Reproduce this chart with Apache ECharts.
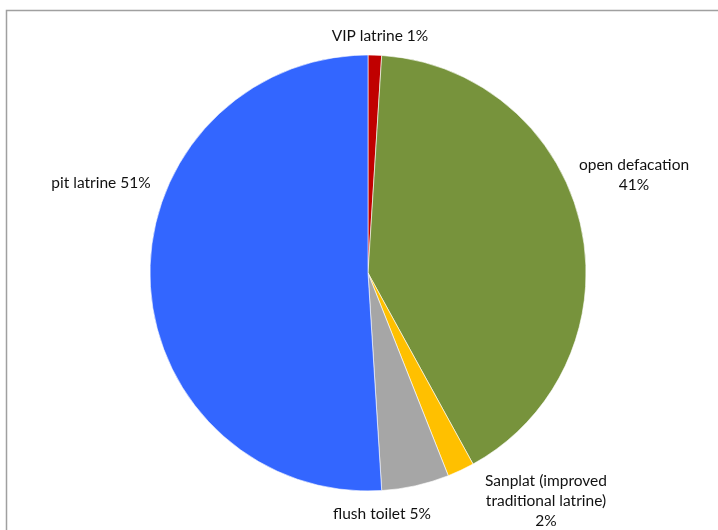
<!DOCTYPE html>
<html>
<head>
<meta charset="utf-8">
<script src="https://cdn.jsdelivr.net/npm/echarts@6/dist/echarts.min.js"></script>
<style>
html,body{margin:0;padding:0;background:#fff;}
#chart{width:718px;height:530px;}
</style>
</head>
<body>
<div id="chart"></div>
<script>
const categories = ['VIP latrine', 'open defacation', 'Sanplat (improved\ntraditional latrine)', 'flush toilet', 'pit latrine'];
const values = [1, 41, 2, 5, 51];
const colors = ['#C00000', '#77933C', '#FFC000', '#A6A6A6', '#3366FF'];

// label anchor points (centre of each label block)
const labelPos = [[380, 36], [634, 175], [546, 501], [382, 514], [101, 183]];
const labelSep = [' ', '\n', '\n', ' ', ' '];

const chart = echarts.init(document.getElementById('chart'));
chart.setOption({
  animation: false,
  backgroundColor: '#ffffff',
  graphic: [{
    type: 'polyline',
    shape: { points: [[6.5, 540], [6.5, 10.5], [730, 10.5]] },
    style: { stroke: '#a0a0a0', lineWidth: 1.5, fill: null }
  }],
  series: [{
    type: 'pie',
    center: [368, 273],
    radius: [0, 218],
    startAngle: 90,
    clockwise: true,
    data: categories.map((c, i) => ({ name: c, value: values[i], itemStyle: { color: colors[i] } })),
    itemStyle: { borderColor: '#ffffff', borderWidth: 0.6 },
    label: {
      show: true,
      position: 'outside',
      fontFamily: 'Lato',
      fontSize: 15.5,
      color: '#111',
      lineHeight: 20,
      align: 'center',
      overflow: 'none',
      width: 300,
      formatter: p => p.name + labelSep[p.dataIndex] + p.value + '%'
    },
    labelLine: { show: false },
    labelLayout: p => ({
      x: labelPos[p.dataIndex][0],
      y: labelPos[p.dataIndex][1],
      align: 'center',
      verticalAlign: 'middle'
    }),
    emphasis: { disabled: true }
  }]
});
</script>
</body>
</html>
